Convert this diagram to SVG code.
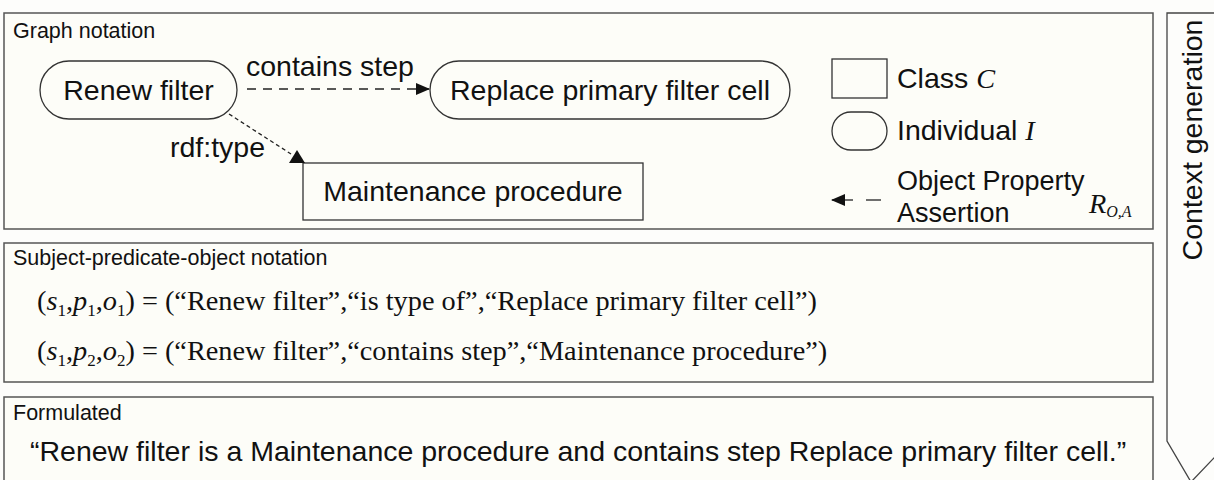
<svg xmlns="http://www.w3.org/2000/svg" width="1214" height="480" viewBox="0 0 1214 480">
<style>
.panel{fill:#fdfdf8;stroke:#555;stroke-width:1.5}
.node{fill:#fdfdf8;stroke:#333;stroke-width:1.3}
.t{font-family:"Liberation Sans",Arial,sans-serif;fill:#111}
.hd{font-size:21.5px}
.lb{font-size:28.5px}
.m{font-family:"Liberation Serif","Times New Roman",serif;fill:#111;font-size:28.3px}
.conn{fill:none;stroke:#222;stroke-width:1.3}
</style>
<defs>
<marker id="ah" markerWidth="14" markerHeight="12" refX="13" refY="6" orient="auto" markerUnits="userSpaceOnUse">
<path d="M0,0 L14,6 L0,12 Z" fill="#111"/>
</marker>
</defs>
<rect width="1214" height="480" fill="#fdfdfb"/>
<g id="panel-graph">
<rect class="panel" x="4" y="13" width="1149" height="216"/>
<text class="t hd" x="13" y="38">Graph notation</text>
</g>
<g id="panel-spo">
<rect class="panel" x="4" y="243" width="1149" height="139"/>
<text class="t hd" x="13" y="265">Subject-predicate-object notation</text>
<text class="m" x="37" y="310">(<tspan font-style="italic">s</tspan><tspan font-size="17" dy="6">1</tspan><tspan dy="-6">,</tspan><tspan font-style="italic">p</tspan><tspan font-size="17" dy="6">1</tspan><tspan dy="-6">,</tspan><tspan font-style="italic">o</tspan><tspan font-size="17" dy="6">1</tspan><tspan dy="-6">) = (“Renew filter”,“is type of”,“Replace primary filter cell”)</tspan></text>
<text class="m" x="37" y="360">(<tspan font-style="italic">s</tspan><tspan font-size="17" dy="6">1</tspan><tspan dy="-6">,</tspan><tspan font-style="italic">p</tspan><tspan font-size="17" dy="6">2</tspan><tspan dy="-6">,</tspan><tspan font-style="italic">o</tspan><tspan font-size="17" dy="6">2</tspan><tspan dy="-6">) = (“Renew filter”,“contains step”,“Maintenance procedure”)</tspan></text>
</g>
<g id="panel-formulated">
<rect class="panel" x="4" y="397" width="1149" height="100"/>
<text class="t hd" x="13" y="420">Formulated</text>
<text class="t lb" x="30" y="461">“Renew filter is a Maintenance procedure and contains step Replace primary filter cell.”</text>
</g>
<g id="context-arrow">
<path d="M1167,13 L1230,13 L1230,441 L1191,482 L1167,441 Z" fill="#fdfdfb" stroke="#444" stroke-width="1.3"/>
<text class="t lb" transform="translate(1202,140) rotate(-90)" text-anchor="middle">Context generation</text>
</g>
<g id="node-renew">
<rect class="node" x="40" y="61" width="197" height="58" rx="29" ry="29"/>
<text class="t lb" x="138.5" y="100" text-anchor="middle">Renew filter</text>
</g>
<g id="node-replace">
<rect class="node" x="430" y="61" width="360" height="58" rx="29" ry="29"/>
<text class="t lb" x="610" y="100" text-anchor="middle">Replace primary filter cell</text>
</g>
<g id="node-maintenance">
<rect class="node" x="303" y="163" width="340" height="57"/>
<text class="t lb" x="473" y="201" text-anchor="middle">Maintenance procedure</text>
</g>
<g id="connectors">
<line class="conn" x1="247" y1="89" x2="429" y2="89" stroke-dasharray="9,7" marker-end="url(#ah)"/>
<text class="t lb" x="246" y="76">contains step</text>
<line class="conn" x1="229" y1="114" x2="291" y2="154" stroke-dasharray="4,3"/>
<polygon points="289,163 305,163 297,150" fill="#111"/>
<text class="t lb" x="170" y="157">rdf:type</text>
</g>
<g id="legend">
<rect class="node" x="832" y="59" width="55" height="39"/>
<text class="t lb" x="897" y="88">Class <tspan class="m" font-style="italic">C</tspan></text>
<rect class="node" x="832" y="112" width="55" height="38" rx="19" ry="19"/>
<text class="t lb" x="897" y="140">Individual <tspan class="m" font-style="italic">I</tspan></text>
<line class="conn" x1="881" y1="200" x2="866" y2="200"/>
<line class="conn" x1="853" y1="200" x2="832" y2="200" marker-end="url(#ah)"/>
<text class="t" font-size="27" x="897" y="190">Object Property</text>
<text class="t" font-size="27" x="897" y="222">Assertion</text>
<text class="m" font-style="italic" font-size="26" x="1089" y="213">R<tspan font-size="16" dy="4">O,A</tspan></text>
</g>
</svg>
